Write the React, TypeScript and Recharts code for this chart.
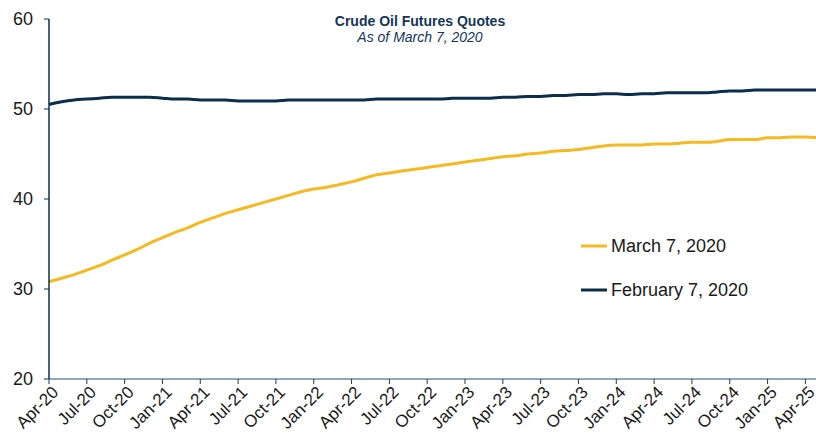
import { LineChart, Line, XAxis, YAxis } from "recharts";

const months = [
  "Apr-20", "May-20", "Jun-20", "Jul-20", "Aug-20", "Sep-20", "Oct-20", "Nov-20", "Dec-20",
  "Jan-21", "Feb-21", "Mar-21", "Apr-21", "May-21", "Jun-21", "Jul-21", "Aug-21", "Sep-21",
  "Oct-21", "Nov-21", "Dec-21", "Jan-22", "Feb-22", "Mar-22", "Apr-22", "May-22", "Jun-22",
  "Jul-22", "Aug-22", "Sep-22", "Oct-22", "Nov-22", "Dec-22", "Jan-23", "Feb-23", "Mar-23",
  "Apr-23", "May-23", "Jun-23", "Jul-23", "Aug-23", "Sep-23", "Oct-23", "Nov-23", "Dec-23",
  "Jan-24", "Feb-24", "Mar-24", "Apr-24", "May-24", "Jun-24", "Jul-24", "Aug-24", "Sep-24",
  "Oct-24", "Nov-24", "Dec-24", "Jan-25", "Feb-25", "Mar-25", "Apr-25", "May-25",
];

const march7 = [
  30.8, 31.2, 31.6, 32.1, 32.6, 33.2, 33.8, 34.4, 35.1, 35.7,
  36.3, 36.8, 37.4, 37.9, 38.4, 38.8, 39.2, 39.6, 40.0, 40.4,
  40.8, 41.1, 41.3, 41.6, 41.9, 42.3, 42.7, 42.9, 43.1, 43.3,
  43.5, 43.7, 43.9, 44.1, 44.3, 44.5, 44.7, 44.8, 45.0, 45.1,
  45.3, 45.4, 45.5, 45.7, 45.9, 46.0, 46.0, 46.0, 46.1, 46.1,
  46.2, 46.3, 46.3, 46.4, 46.6, 46.6, 46.6, 46.8, 46.8, 46.9,
  46.9, 46.8,
];

const february7 = [
  50.5, 50.8, 51.0, 51.1, 51.2, 51.3, 51.3, 51.3, 51.3, 51.2,
  51.1, 51.1, 51.0, 51.0, 51.0, 50.9, 50.9, 50.9, 50.9, 51.0,
  51.0, 51.0, 51.0, 51.0, 51.0, 51.0, 51.1, 51.1, 51.1, 51.1,
  51.1, 51.1, 51.2, 51.2, 51.2, 51.2, 51.3, 51.3, 51.4, 51.4,
  51.5, 51.5, 51.6, 51.6, 51.7, 51.7, 51.6, 51.7, 51.7, 51.8,
  51.8, 51.8, 51.8, 51.9, 52.0, 52.0, 52.1, 52.1, 52.1, 52.1,
  52.1, 52.1,
];

const yTicks = [20, 30, 40, 50, 60];

const data = months.map((m, i) => ({ month: m, march: march7[i], feb: february7[i] }));

const FONT = '"Liberation Sans", Arial, sans-serif';
const YELLOW = "#F5B921";
const NAVY = "#0B2E4A";

const legendItems = [
  { label: "March 7, 2020", color: YELLOW },
  { label: "February 7, 2020", color: NAVY },
];

const XTick = (props: any) => {
  const { x, y, payload } = props;
  return (
    <g transform={`translate(${x + 4},${y + 1})`}>
      <text
        x={0}
        y={0}
        dy={9}
        textAnchor="end"
        transform="rotate(-45)"
        fontSize={17}
        fontFamily={FONT}
        fill="#1a1a1a"
      >
        {payload.value}
      </text>
    </g>
  );
};

export default function App() {
  return (
    <div
      style={{
        position: "absolute",
        left: 0,
        top: 0,
        width: 816,
        height: 441,
        overflow: "hidden",
        background: "#fff",
        fontFamily: FONT,
      }}
    >
      <div
        style={{
          position: "absolute",
          left: 0,
          width: 840,
          top: 13,
          textAlign: "center",
          color: "#14365A",
          fontSize: 14,
          lineHeight: "16px",
          zIndex: 2,
        }}
      >
        <div style={{ fontWeight: "bold" }}>Crude Oil Futures Quotes</div>
        <div style={{ fontStyle: "italic" }}>As of March 7, 2020</div>
      </div>
      <div style={{ position: "absolute", left: 580, top: 224, zIndex: 2 }}>
        {legendItems.map((it) => (
          <div key={it.label} style={{ display: "flex", alignItems: "center", height: 44 }}>
            <svg width={28} height={6} style={{ marginRight: 3 }}>
              <line x1={1} y1={3} x2={27} y2={3} stroke={it.color} strokeWidth={3} />
            </svg>
            <span style={{ fontSize: 18, color: "#1a1a1a" }}>{it.label}</span>
          </div>
        ))}
      </div>
      <LineChart width={830} height={441} data={data} margin={{ top: 19, right: 12, bottom: 0, left: 0 }}>
        <XAxis
          dataKey="month"
          interval={2}
          height={62}
          tickSize={5}
          axisLine={{ stroke: "#6F8AA2", strokeWidth: 1.5 }}
          tickLine={{ stroke: "#1F3B57" }}
          tick={<XTick />}
        />
        <YAxis
          domain={[20, 60]}
          ticks={yTicks}
          width={49}
          tickSize={5}
          tickMargin={11}
          axisLine={{ stroke: NAVY, strokeWidth: 1.5 }}
          tickLine={{ stroke: NAVY }}
          tick={{ fontSize: 18, fontFamily: FONT, fill: "#1a1a1a" }}
        />
        <Line
          type="monotone"
          dataKey="march"
          name="March 7, 2020"
          stroke={YELLOW}
          strokeWidth={3}
          dot={false}
          isAnimationActive={false}
        />
        <Line
          type="monotone"
          dataKey="feb"
          name="February 7, 2020"
          stroke={NAVY}
          strokeWidth={3}
          dot={false}
          isAnimationActive={false}
        />
      </LineChart>
    </div>
  );
}
